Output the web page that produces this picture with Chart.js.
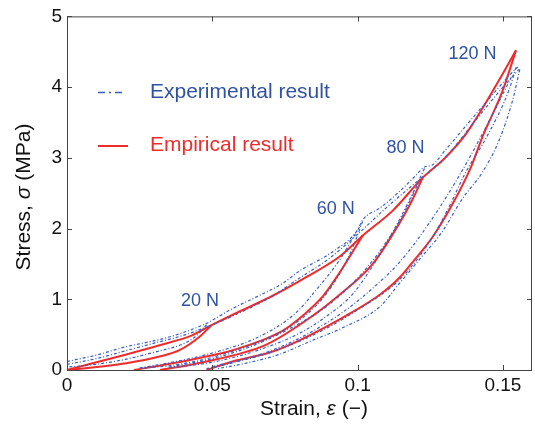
<!DOCTYPE html>
<html>
<head>
<meta charset="utf-8">
<script src="https://cdn.jsdelivr.net/npm/chart.js@4/dist/chart.umd.min.js"></script>
<style>
html, body { margin: 0; padding: 0; background: #fff; }
</style>
</head>
<body>
<canvas id="chart" width="535" height="427"></canvas>
<script>
// axis ticks
const xTicks = [0, 0.05, 0.1, 0.15];
const yTicks = [0, 1, 2, 3, 4, 5];

// empirical (red) - loading envelope and unloading branches
const redLoadX = [0, 0.0088, 0.0204, 0.0318, 0.043, 0.0496, 0.059, 0.0708, 0.0826, 0.0943, 0.1017, 0.112, 0.1224, 0.1296, 0.1373, 0.1487, 0.1545];
const redLoadY = [0, 0.095, 0.22, 0.35, 0.49, 0.63, 0.82, 1.05, 1.32, 1.62, 1.9, 2.25, 2.72, 2.98, 3.34, 4.1, 4.52];
const red20X = [0.0496, 0.0456, 0.0387, 0.0318, 0.0204, 0.0088, 0];
const red20Y = [0.63, 0.47, 0.28, 0.19, 0.095, 0.035, 0];
const red60X = [0.1017, 0.0937, 0.088, 0.082, 0.074, 0.057, 0.0456, 0.033, 0.023];
const red60Y = [1.9, 1.37, 1.04, 0.8, 0.55, 0.28, 0.17, 0.07, 0];
const red80X = [0.1224, 0.1185, 0.1143, 0.1052, 0.0937, 0.085, 0.0686, 0.0456, 0.032];
const red80Y = [2.72, 2.38, 2.07, 1.5, 1.06, 0.78, 0.36, 0.1, 0];
const red120X = [0.1545, 0.1499, 0.143, 0.139, 0.1327, 0.1258, 0.119, 0.1143, 0.1075, 0.0995, 0.08, 0.07, 0.057, 0.048];
const red120Y = [4.52, 3.95, 3.3, 2.87, 2.35, 1.88, 1.53, 1.3, 1.06, 0.85, 0.42, 0.25, 0.12, 0];

// experimental (blue)
const blueEnvAX = [0, 0.01, 0.0204, 0.0318, 0.04, 0.048, 0.057, 0.065, 0.074, 0.08, 0.0913, 0.1, 0.1017, 0.108, 0.1143, 0.12, 0.123, 0.1257, 0.13, 0.137, 0.1476, 0.153, 0.1555];
const blueEnvAY = [0.12, 0.21, 0.33, 0.43, 0.53, 0.66, 0.87, 1.03, 1.22, 1.4, 1.67, 1.98, 2.12, 2.3, 2.52, 2.75, 2.87, 2.9, 3.1, 3.44, 3.95, 4.2, 4.3];
const blueEnvBX = [0, 0.01, 0.02, 0.03, 0.04, 0.05, 0.06, 0.07, 0.08, 0.09, 0.1, 0.11, 0.12, 0.13, 0.14, 0.15, 0.1555];
const blueEnvBY = [0.08, 0.16, 0.27, 0.38, 0.49, 0.64, 0.82, 1.03, 1.3, 1.57, 1.92, 2.3, 2.65, 3.0, 3.5, 4.0, 4.25];
const blue20X = [0.048, 0.045, 0.04, 0.0318, 0.02, 0.01, 0];
const blue20Y = [0.64, 0.5, 0.37, 0.27, 0.15, 0.08, 0.04];
const blue60X = [0.1017, 0.0985, 0.095, 0.09, 0.085, 0.077, 0.065, 0.055, 0.045, 0.035, 0.025];
const blue60Y = [2.1, 1.75, 1.45, 1.12, 0.88, 0.62, 0.38, 0.24, 0.13, 0.06, 0.02];
const blue60rX = [0.025, 0.035, 0.05, 0.065, 0.078, 0.0857, 0.0937, 0.1006];
const blue60rY = [0.03, 0.1, 0.24, 0.45, 0.78, 1.13, 1.55, 2.02];
const blue80X = [0.123, 0.1178, 0.113, 0.105, 0.098, 0.09, 0.08, 0.065, 0.05, 0.035];
const blue80Y = [2.85, 2.4, 2.02, 1.46, 1.06, 0.78, 0.52, 0.27, 0.11, 0.03];
const blue80rX = [0.035, 0.05, 0.065, 0.08, 0.09, 0.1, 0.108, 0.115, 0.121];
const blue80rY = [0.04, 0.16, 0.36, 0.66, 0.92, 1.3, 1.7, 2.15, 2.65];
const blue120aX = [0.1558, 0.1533, 0.1487, 0.143, 0.136, 0.129, 0.121, 0.1143, 0.1075, 0.095, 0.0845, 0.073, 0.062, 0.052];
const blue120aY = [4.25, 3.81, 3.25, 2.8, 2.42, 1.95, 1.55, 1.22, 0.89, 0.6, 0.42, 0.22, 0.1, 0.02];
const blue120bX = [0.1545, 0.152, 0.145, 0.137, 0.1315, 0.1258, 0.115, 0.1, 0.085, 0.07, 0.055, 0.048];
const blue120bY = [4.28, 3.95, 3.34, 2.78, 2.31, 1.88, 1.3, 0.85, 0.5, 0.25, 0.08, 0.02];
const blue120rX = [0.05, 0.065, 0.08, 0.095, 0.105, 0.115, 0.125, 0.135, 0.145, 0.153];
const blue120rY = [0.05, 0.2, 0.45, 0.82, 1.15, 1.55, 2.1, 2.75, 3.5, 4.15];

// load labels
const loadLabels = ['20 N', '60 N', '80 N', '120 N'];
const loadLabelX = [0.0458, 0.0925, 0.1165, 0.1395];
const loadLabelY = [0.98, 2.28, 3.14, 4.47];

const RED = '#ef2b2b';
const BLUE = '#3a5ec4';
const TEXT_BLUE = '#2f52a4';
const FONT = "'Liberation Sans', Arial, sans-serif";

function pts(xs, ys) {
    return xs.map((x, i) => ({ x: x, y: ys[i] }));
}

function blueSet(xs, ys) {
    return { data: pts(xs, ys), borderColor: BLUE, borderWidth: 1.2, borderDash: [3, 2, 1, 2], pointRadius: 0, showLine: true, cubicInterpolationMode: 'monotone' };
}

function redSet(xs, ys) {
    return { data: pts(xs, ys), borderColor: RED, borderWidth: 2, pointRadius: 0, showLine: true, cubicInterpolationMode: 'monotone' };
}

const decorations = {
    id: 'decorations',
    afterDraw(chart) {
        const ctx = chart.ctx;
        const a = chart.chartArea;
        const sx = chart.scales.x;
        const sy = chart.scales.y;
        ctx.save();

        // frame and inward ticks
        ctx.strokeStyle = '#444';
        ctx.lineWidth = 1;
        ctx.setLineDash([]);
        ctx.strokeRect(a.left + 0.5, a.top + 0.5, a.right - a.left - 1, a.bottom - a.top);
        ctx.beginPath();
        xTicks.forEach(v => {
            const px = Math.round(sx.getPixelForValue(v)) + 0.5;
            ctx.moveTo(px, a.bottom); ctx.lineTo(px, a.bottom - 5);
            ctx.moveTo(px, a.top); ctx.lineTo(px, a.top + 5);
        });
        yTicks.forEach(v => {
            const py = Math.round(sy.getPixelForValue(v)) + 0.5;
            ctx.moveTo(a.left, py); ctx.lineTo(a.left + 5, py);
            ctx.moveTo(a.right, py); ctx.lineTo(a.right - 5, py);
        });
        ctx.stroke();

        // load labels
        ctx.fillStyle = TEXT_BLUE;
        ctx.font = '18px ' + FONT;
        ctx.textAlign = 'center';
        ctx.textBaseline = 'middle';
        loadLabels.forEach((t, i) => {
            ctx.fillText(t, sx.getPixelForValue(loadLabelX[i]), sy.getPixelForValue(loadLabelY[i]));
        });

        // legend
        ctx.textAlign = 'left';
        ctx.font = '21px ' + FONT;
        ctx.strokeStyle = BLUE;
        ctx.lineWidth = 1.5;
        ctx.setLineDash([7, 4, 2, 4]);
        ctx.beginPath(); ctx.moveTo(98, 92.5); ctx.lineTo(124, 92.5); ctx.stroke();
        ctx.fillStyle = TEXT_BLUE;
        ctx.fillText('Experimental result', 150, 92);
        ctx.setLineDash([]);
        ctx.strokeStyle = RED;
        ctx.lineWidth = 2;
        ctx.beginPath(); ctx.moveTo(98, 146); ctx.lineTo(128, 146); ctx.stroke();
        ctx.fillStyle = RED;
        ctx.fillText('Empirical result', 150, 145);

        // axis titles with italic symbols
        ctx.fillStyle = '#111';
        drawMixed(ctx, [['Strain, ', false], ['\u03b5', true], [' (\u2212)', false]], 314, 409, 0);
        drawMixed(ctx, [['Stress, ', false], ['\u03c3', true], [' (MPa)', false]], 24, 197, -Math.PI / 2);
        ctx.restore();
    }
};

function drawMixed(ctx, parts, cx, cy, rot) {
    const fonts = parts.map(p => (p[1] ? 'italic ' : '') + '21px ' + FONT);
    let widths = parts.map((p, i) => { ctx.font = fonts[i]; return ctx.measureText(p[0]).width; });
    const total = widths.reduce((s, w) => s + w, 0);
    ctx.save();
    ctx.translate(cx, cy);
    ctx.rotate(rot);
    ctx.textAlign = 'left';
    ctx.textBaseline = 'middle';
    let x = -total / 2;
    parts.forEach((p, i) => {
        ctx.font = fonts[i];
        ctx.fillText(p[0], x, 0);
        x += widths[i];
    });
    ctx.restore();
}

const tickFont = { family: FONT, size: 19 };

new Chart(document.getElementById('chart'), {
    type: 'scatter',
    data: {
        datasets: [
            blueSet(blueEnvAX, blueEnvAY),
            blueSet(blueEnvBX, blueEnvBY),
            blueSet(blue20X, blue20Y),
            blueSet(blue60X, blue60Y),
            blueSet(blue60rX, blue60rY),
            blueSet(blue80X, blue80Y),
            blueSet(blue80rX, blue80rY),
            blueSet(blue120aX, blue120aY),
            blueSet(blue120bX, blue120bY),
            blueSet(blue120rX, blue120rY),
            redSet(redLoadX, redLoadY),
            redSet(red20X, red20Y),
            redSet(red60X, red60Y),
            redSet(red80X, red80Y),
            redSet(red120X, red120Y)
        ]
    },
    options: {
        responsive: false,
        animation: false,
        layout: { padding: { left: 0, right: 3, top: 16, bottom: 0 } },
        plugins: {
            legend: { display: false },
            tooltip: { enabled: false }
        },
        scales: {
            x: {
                type: 'linear',
                min: 0,
                max: 0.16,
                afterFit: s => { s.height = 57; },
                afterBuildTicks: s => { s.ticks = xTicks.map(v => ({ value: v })); },
                grid: { display: false, drawTicks: false },
                border: { display: false },
                ticks: {
                    padding: 4,
                    color: '#111',
                    font: tickFont,
                    maxRotation: 0,
                    autoSkip: false,
                    callback: v => String(+v.toFixed(2))
                }
            },
            y: {
                type: 'linear',
                min: 0,
                max: 5,
                afterFit: s => { s.width = 67; },
                afterBuildTicks: s => { s.ticks = yTicks.map(v => ({ value: v })); },
                grid: { display: false, drawTicks: false },
                border: { display: false },
                ticks: {
                    padding: 5,
                    color: '#111',
                    font: tickFont,
                    callback: v => String(v)
                }
            }
        }
    },
    plugins: [decorations]
});
</script>
</body>
</html>
